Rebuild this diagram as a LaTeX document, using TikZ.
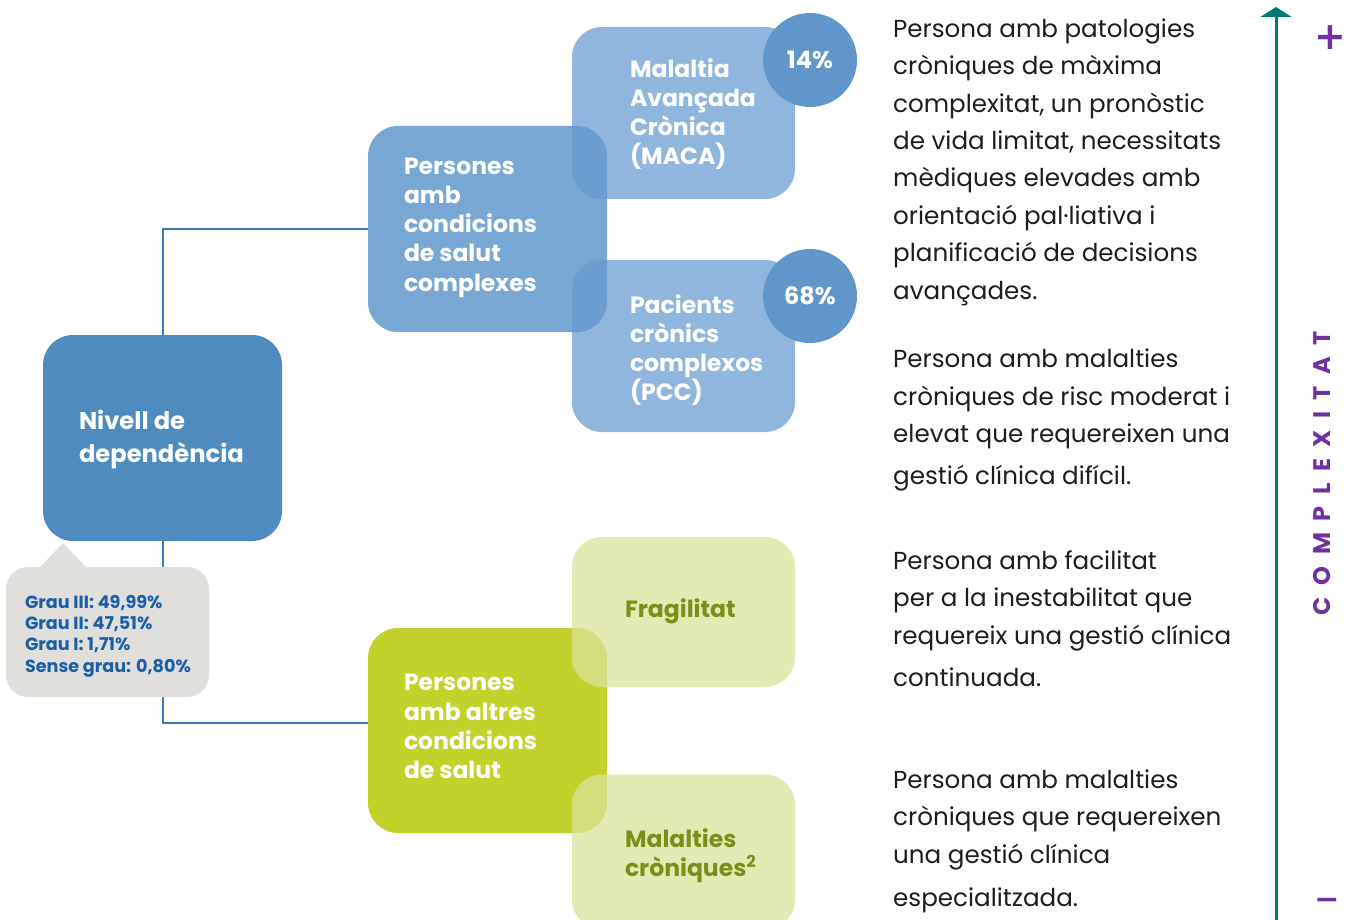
\documentclass[tikz,border=0pt]{standalone}
\usepackage{fontspec}
\setmainfont{Poppins}
\newfontfamily\symfont{DejaVu Sans}
\newfontfamily\spacedfont[LetterSpace=48]{Poppins}
\usetikzlibrary{arrows.meta}
\definecolor{nivc}{HTML}{4F8BBF}
\definecolor{pcc}{HTML}{79A7D3}
\definecolor{lblue}{HTML}{679AD0}
\definecolor{circc}{HTML}{6096C9}
\definecolor{connc}{HTML}{3E7AB8}
\definecolor{pgreen}{HTML}{C3D22A}
\definecolor{lgreen}{HTML}{DBE39A}
\definecolor{gtext}{HTML}{7A8E1B}
\definecolor{bubc}{HTML}{E0DFDB}
\definecolor{bubt}{HTML}{1A5EA8}
\definecolor{tealc}{HTML}{007B6F}
\definecolor{purp}{HTML}{7030A0}
\definecolor{darkt}{HTML}{1D1D1B}
\tikzset{
  boxs/.style={rectangle, rounded corners=30pt, inner sep=0pt},
  lbl/.style={font=\bfseries\fontsize{23.5}{29.3}\selectfont, text=white, align=left, inner sep=0pt, anchor=west},
  glbl/.style={lbl, text=gtext},
  rtxt/.style={font=\fontsize{24.6}{37.4}\selectfont, text=darkt, align=left, anchor=west, inner sep=0pt},
  conn/.style={draw=connc, line width=2pt},
  pct/.style={circle, fill=circc, minimum size=94pt, inner sep=0pt, text=white, font=\bfseries\fontsize{24}{28}\selectfont}
}
\begin{document}
\begin{tikzpicture}[x=1pt,y=-1pt]
\useasboundingbox (0,0) rectangle (1350,920);
% main boxes
\node[boxs, fill=nivc, minimum width=239pt, minimum height=206pt] (niv) at (162.5,438) {};
\node[boxs, fill=pcc, minimum width=239pt, minimum height=206pt] (pc) at (487.5,229) {};
\node[boxs, fill=pgreen, minimum width=239pt, minimum height=205pt] (pa) at (487.5,730.5) {};
% connectors
\draw[conn] (niv.north) |- (pc.west);
\draw[conn] (niv.south) |- ([yshift=7.5pt]pa.west);
% bubble
\fill[bubc] (40,567) -- (63,543) -- (86,567) -- cycle;
\node[boxs, rounded corners=22pt, fill=bubc, minimum width=203pt, minimum height=130pt] (bub) at (107.5,632) {};
% sub boxes
\node[boxs, fill=lblue, fill opacity=0.72, minimum width=223pt, minimum height=172pt] (maca) at (683.5,113) {};
\node[boxs, fill=lblue, fill opacity=0.72, minimum width=223pt, minimum height=172pt] (pcb) at (683.5,346) {};
\node[boxs, fill=lgreen, fill opacity=0.74, minimum width=223pt, minimum height=150pt] (frag) at (683.5,612) {};
\node[boxs, fill=lgreen, fill opacity=0.74, minimum width=223pt, minimum height=155pt] (mal) at (683.5,852) {};
% circles
\node[pct] (c14) at (810,60) {14\%};
\node[pct] (c68) at (810,296) {68\%};
% labels
\node[lbl, font=\bfseries\fontsize{24.2}{33}\selectfont] (tniv) at ([xshift=36pt,yshift=-2pt]niv.west) {Nivell de\\dependència};
\node[lbl] (tpc) at ([xshift=36pt,yshift=1.5pt]pc.west) {Persones\\amb\\condicions\\de salut\\complexes};
\node[lbl] (tmaca) at ([xshift=58pt,yshift=-1pt]maca.west) {Malaltia\\Avançada\\Crònica\\(MACA)};
\node[lbl] (tpcb) at ([xshift=58pt,yshift=-4pt]pcb.west) {Pacients\\crònics\\complexos\\(PCC)};
\node[lbl] (tpa) at ([xshift=36pt,yshift=4pt]pa.west) {Persones\\amb altres\\condicions\\de salut};
\node[glbl] (tfrag) at ([xshift=53pt,yshift=1pt]frag.west) {Fragilitat};
\node[glbl] (tmal) at ([xshift=53pt,yshift=-3.5pt]mal.west) {Malalties\\cròniques\textsuperscript{2}};
\node[anchor=west, align=left, inner sep=0pt, text=bubt, font=\bfseries\fontsize{17.6}{21.3}\selectfont] (tbub) at ([xshift=19pt,yshift=-4pt]bub.west) {Grau III: 49,99\%\\Grau II: 47,51\%\\Grau I: 1,71\%\\Sense grau: 0,80\%};
% right texts
\node[rtxt] (r1) at (893,162) {Persona amb patologies\\cròniques de màxima\\complexitat, un pronòstic\\de vida limitat, necessitats\\mèdiques elevades amb\\orientació pal·liativa i\\planificació de decisions\\avançades.};
\node[rtxt] (r2) at (893,420) {Persona amb malalties\\cròniques de risc moderat i\\elevat que requereixen una\\[4.6pt]gestió clínica difícil.};
\node[rtxt] (r3) at (893,618.5) {Persona amb facilitat\\per a la inestabilitat que\\requereix una gestió clínica\\[4.6pt]continuada.};
\node[rtxt] (r4) at (893,841) {Persona amb malalties\\cròniques que requereixen\\una gestió clínica\\[5.6pt]especialitzada.};
% complexity axis
\coordinate (abot) at (1276,925);
\coordinate (atop) at (1276,7);
\draw[tealc, line width=3pt, -{Triangle[width=31pt,length=10pt]}] (abot) -- (atop);
\node[text=purp, font=\symfont\bfseries\fontsize{38}{40}\selectfont, inner sep=0pt] (plus) at (1330,38) {+};
\node[text=purp, font=\symfont\bfseries\fontsize{30}{32}\selectfont, inner sep=0pt] (minus) at (1327,904) {−};
\node[text=purp, rotate=90, font=\spacedfont\bfseries\fontsize{24}{26}\selectfont, inner sep=0pt] (cx) at (1322,473) {COMPLEXITAT};
\end{tikzpicture}
\end{document}
